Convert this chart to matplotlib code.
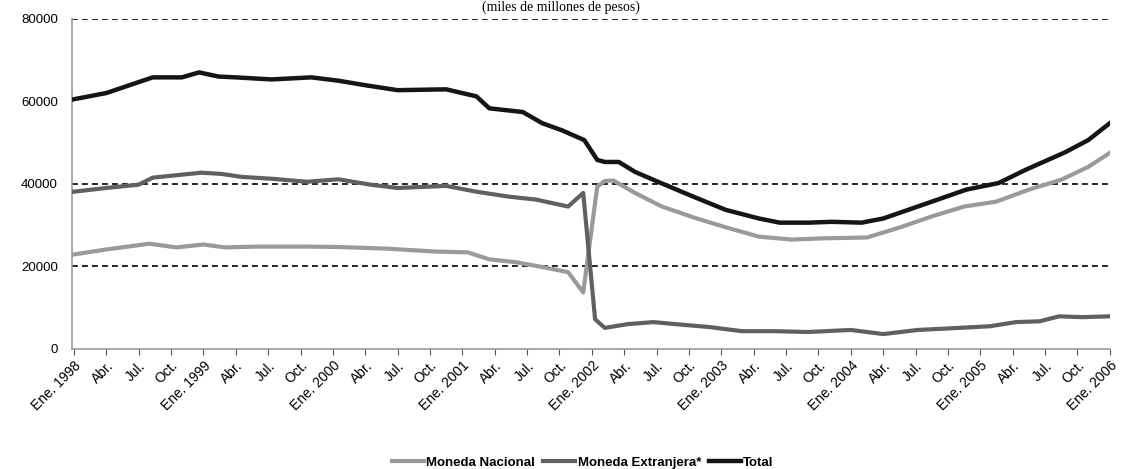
import matplotlib
matplotlib.use('Agg')
from matplotlib import pyplot as plt

# month index: 0 = Ene. 1998, 96 = Ene. 2006
mn_m = [0, 3, 7, 9.5, 12, 14, 17, 21.5, 24.5, 29, 33.5, 36.5, 38.5, 41, 43.5, 45.8, 47.2,
        48.5, 49.2, 50, 52, 54.5, 57.5, 60.5, 63.5, 66.5, 69.5, 73.5, 76.5, 79.5, 82.5,
        85.5, 88.5, 91.5, 94, 96]
mn_v = [22900, 24100, 25500, 24600, 25300, 24600, 24800, 24800, 24700, 24300, 23600, 23400,
        21700, 21000, 19800, 18600, 13700, 39300, 40700, 40800, 37800, 34500, 31800, 29400,
        27200, 26500, 26800, 27000, 29400, 32100, 34500, 35700, 38600, 41000, 44100, 47500]

me_m = [0, 3, 6, 7.3, 11.8, 13.7, 15.5, 18.5, 21.6, 24.5, 27.5, 30, 34.5, 37.3, 40.3, 42.8,
        45.8, 47.2, 48.3, 49.2, 51.3, 53.7, 55.8, 58.9, 61.9, 65, 68, 72, 75, 78.2, 81.3,
        84.9, 87.3, 89.5, 91.3, 93.4, 96]
me_v = [38100, 39000, 39800, 41500, 42700, 42400, 41700, 41200, 40500, 41100, 39800, 39000,
        39500, 38100, 36900, 36200, 34500, 37800, 7200, 5100, 6000, 6500, 6000, 5300, 4300,
        4300, 4100, 4600, 3600, 4600, 5000, 5500, 6500, 6700, 7900, 7700, 7900]

tot_m = [0, 3, 7.3, 10, 11.6, 13.4, 15, 18.3, 22, 24.5, 27, 30, 34.5, 37.3, 38.5, 41.6, 43.4,
         45.2, 47.3, 48.5, 49.2, 50.5, 52, 54.4, 57.4, 60.4, 63.5, 65.4, 68.1, 70.2, 73, 75,
         78.2, 82.7, 85.7, 88.2, 91.9, 94, 96]
tot_v = [60500, 62000, 65800, 65800, 67000, 66000, 65800, 65300, 65800, 65000, 63900, 62700,
         62900, 61200, 58300, 57400, 54700, 53000, 50600, 45800, 45300, 45300, 42900, 40200,
         36900, 33700, 31600, 30600, 30600, 30800, 30600, 31600, 34500, 38600, 40200, 43400,
         47700, 50600, 54700]

years = ['1998', '1999', '2000', '2001', '2002', '2003', '2004', '2005']
tick_labels = []
for y in years:
    tick_labels += ['Ene. ' + y, 'Abr.', 'Jul.', 'Oct.']
tick_labels.append('Ene. 2006')
tick_pos = list(range(0, 97, 3))

grid_vals = [20000, 40000, 80000]

plt.rcParams['font.family'] = ['Liberation Sans', 'DejaVu Sans']

fig = plt.figure(figsize=(11.21, 4.69), dpi=100)
ax = fig.add_axes([0.064, 0.256, 0.926, 0.704])

for g in grid_vals:
    ax.axhline(g, color='black', lw=1.2, ls=(0, (3.5, 2.5)), zorder=1)

ax.plot(mn_m, mn_v, color='#9a9a9a', lw=3, label='Moneda Nacional', zorder=3)
ax.plot(me_m, me_v, color='#606060', lw=3, label='Moneda Extranjera*', zorder=3)
ax.plot(tot_m, tot_v, color='#151515', lw=3.2, label='Total', zorder=4)

ax.set_xlim(-0.2, 96)
ax.set_ylim(0, 80000)
ax.set_yticks([0, 20000, 40000, 60000, 80000])
ax.set_yticklabels(['0', '20000', '40000', '60000', '80000'], fontsize=9.5)
ax.tick_params(axis='y', length=0, pad=10)
ax.set_xticks(tick_pos)
ax.set_xticklabels(tick_labels, rotation=45, ha='right', rotation_mode='anchor', fontsize=10)
ax.tick_params(axis='x', length=4, color='#555555', pad=3)

for s in ['top', 'right']:
    ax.spines[s].set_visible(False)
for s in ['left', 'bottom']:
    ax.spines[s].set_color('#999999')
    ax.spines[s].set_linewidth(1.2)

fig.text(0.5, 0.998, '(miles de millones de pesos)', ha='center', va='top',
         fontsize=10, family=['Liberation Serif', 'DejaVu Serif'])

fig.legend(loc='lower center', bbox_to_anchor=(0.52, -0.025), ncol=3, frameon=False,
           handlelength=2.4, columnspacing=0.6, handletextpad=0.2,
           prop={'weight': 'bold', 'size': 9.5})

fig.savefig('out.png', dpi=100)
